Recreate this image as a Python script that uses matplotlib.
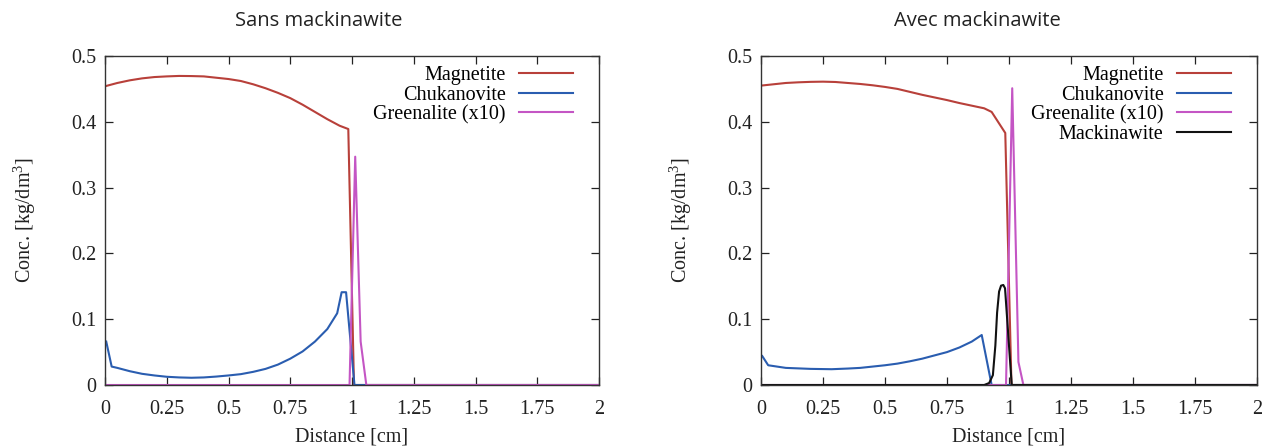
import matplotlib
matplotlib.use("Agg")
import matplotlib.pyplot as plt
from matplotlib.ticker import FormatStrFormatter

plt.rcParams['font.family'] = ['Liberation Serif', 'DejaVu Serif']
plt.rcParams['mathtext.fontset'] = 'custom'
plt.rcParams['mathtext.rm'] = 'Liberation Serif'

# Sans mackinawite
sans_magnetite_x = [0.0, 0.05, 0.1, 0.15, 0.2, 0.25, 0.3, 0.35, 0.4, 0.45, 0.5, 0.55, 0.6, 0.65,
                    0.7, 0.75, 0.8, 0.85, 0.9, 0.95, 0.985, 1.008, 2.0]
sans_magnetite_y = [0.454, 0.459, 0.463, 0.466, 0.468, 0.469, 0.4697, 0.4695, 0.469, 0.467, 0.465,
                    0.462, 0.457, 0.451, 0.444, 0.436, 0.426, 0.415, 0.404, 0.394, 0.389, 0.0, 0.0]

sans_chuka_x = [0.005, 0.027, 0.05, 0.1, 0.15, 0.2, 0.25, 0.3, 0.35, 0.4, 0.45, 0.5, 0.55, 0.6, 0.65,
                0.7, 0.75, 0.8, 0.85, 0.9, 0.94, 0.958, 0.976, 1.01, 2.0]
sans_chuka_y = [0.066, 0.028, 0.026, 0.021, 0.017, 0.0145, 0.0125, 0.0115, 0.011, 0.0115, 0.0128,
                0.0145, 0.0165, 0.020, 0.0245, 0.031, 0.040, 0.051, 0.066, 0.085, 0.109, 0.141,
                0.141, 0.0, 0.0]

sans_green_x = [0.0, 0.99, 1.013, 1.035, 1.058, 2.0]
sans_green_y = [0.0, 0.0, 0.347, 0.066, 0.0, 0.0]

# Avec mackinawite
avec_magnetite_x = [0.0, 0.05, 0.1, 0.15, 0.2, 0.25, 0.3, 0.35, 0.4, 0.45, 0.5, 0.55, 0.6, 0.65,
                    0.7, 0.75, 0.8, 0.85, 0.9, 0.93, 0.985, 1.01, 2.0]
avec_magnetite_y = [0.455, 0.457, 0.459, 0.460, 0.4607, 0.461, 0.4605, 0.459, 0.4575, 0.4555,
                    0.453, 0.450, 0.4455, 0.441, 0.437, 0.433, 0.4285, 0.4245, 0.4205, 0.415,
                    0.383, 0.0, 0.0]

avec_chuka_x = [0.005, 0.029, 0.1, 0.2, 0.285, 0.35, 0.4, 0.45, 0.5, 0.55, 0.6, 0.65, 0.7, 0.75,
                0.8, 0.85, 0.89, 0.93, 2.0]
avec_chuka_y = [0.044, 0.030, 0.026, 0.0245, 0.024, 0.025, 0.026, 0.028, 0.030, 0.0325, 0.036,
                0.040, 0.045, 0.050, 0.057, 0.066, 0.076, 0.0, 0.0]

avec_green_x = [0.0, 0.988, 1.013, 1.038, 1.058, 2.0]
avec_green_y = [0.0, 0.0, 0.451, 0.035, 0.0, 0.0]

avec_mack_x = [0.0, 0.90, 0.92, 0.935, 0.945, 0.952, 0.96, 0.968, 0.977, 0.984, 1.011, 2.0]
avec_mack_y = [0.0, 0.0, 0.003, 0.015, 0.06, 0.11, 0.142, 0.151, 0.152, 0.147, 0.0, 0.0]

xticks = [0, 0.25, 0.5, 0.75, 1, 1.25, 1.5, 1.75, 2]
yticks = [0, 0.1, 0.2, 0.3, 0.4, 0.5]

c_magnetite = '#b8403a'
c_chuka = '#2a5db0'
c_green = '#c455c4'
c_mack = '#111111'

fs = 14.5
lw = 1.5


def style_axes(ax):
    ax.set_xlim(0, 2)
    ax.set_ylim(0, 0.5)
    ax.set_xticks(xticks)
    ax.set_yticks(yticks)
    ax.xaxis.set_major_formatter(FormatStrFormatter('%g'))
    ax.yaxis.set_major_formatter(FormatStrFormatter('%g'))
    ax.tick_params(direction='in', top=True, right=True, length=6, width=0.9,
                   labelsize=fs, colors='#222222')
    ax.tick_params(axis='x', pad=11)
    ax.tick_params(axis='y', pad=6)
    for s in ax.spines.values():
        s.set_color('#333333')
        s.set_linewidth(1.0)
    ax.set_xlabel('Distance [cm]', fontsize=fs, color='#222222')
    ax.set_ylabel('Conc. [kg/dm$^3$]', fontsize=fs, color='#222222')
    ax.yaxis.set_label_coords(-0.135, 0.5)
    ax.xaxis.set_label_coords(0.5, -0.128)
    ax.legend(loc='upper right', bbox_to_anchor=(0.968, 1.0), frameon=False,
              markerfirst=False, fontsize=fs, handlelength=2.7, handletextpad=0.65,
              labelspacing=0.02, borderaxespad=0.3, borderpad=0.2)


fig = plt.figure(figsize=(12.7, 4.48), dpi=100)

ax1 = fig.add_axes([105 / 1270, 63 / 448, 494 / 1270, 329 / 448])
ax1.plot(sans_magnetite_x, sans_magnetite_y, color=c_magnetite, lw=lw, label='Magnetite')
ax1.plot(sans_chuka_x, sans_chuka_y, color=c_chuka, lw=lw, label='Chukanovite')
ax1.plot(sans_green_x, sans_green_y, color=c_green, lw=lw, label='Greenalite (x10)')
style_axes(ax1)

ax2 = fig.add_axes([761 / 1270, 63 / 448, 496 / 1270, 329 / 448])
ax2.plot(avec_magnetite_x, avec_magnetite_y, color=c_magnetite, lw=lw, label='Magnetite')
ax2.plot(avec_chuka_x, avec_chuka_y, color=c_chuka, lw=lw, label='Chukanovite')
ax2.plot(avec_green_x, avec_green_y, color=c_green, lw=lw, label='Greenalite (x10)')
ax2.plot(avec_mack_x, avec_mack_y, color=c_mack, lw=lw, label='Mackinawite')
style_axes(ax2)

fig.text(319 / 1270, 1 - 21 / 448, 'Sans mackinawite', ha='center', va='center',
         fontsize=14.5, family=['Open Sans', 'DejaVu Sans'], color='#222222')
fig.text(977 / 1270, 1 - 21 / 448, 'Avec mackinawite', ha='center', va='center',
         fontsize=14.5, family=['Open Sans', 'DejaVu Sans'], color='#222222')

fig.savefig('out.png', dpi=100)
